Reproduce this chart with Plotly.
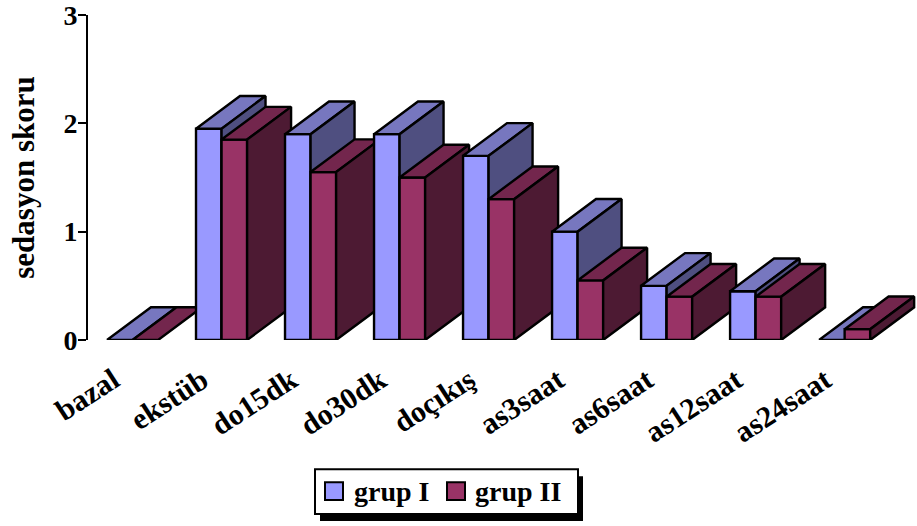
import plotly.graph_objects as go

# Sedation score per time point for the two groups
categories = ["bazal", "ekstüb", "do15dk", "do30dk", "doçıkış",
              "as3saat", "as6saat", "as12saat", "as24saat"]
grup_1 = [0.0, 1.95, 1.9, 1.9, 1.7, 1.0, 0.5, 0.45, 0.0]
grup_2 = [0.0, 1.85, 1.55, 1.5, 1.3, 0.55, 0.4, 0.4, 0.1]
y_ticks = [0, 1, 2, 3]

series = [
    ("grup I", grup_1, {"front": "#9999FF", "top": "#7777BF", "side": "#4F4F80"}),
    ("grup II", grup_2, {"front": "#993366", "top": "#73264D", "side": "#4D1A33"}),
]

# Geometry of the pseudo-3D columns (in axis units)
BAR_W = 0.287      # width of one column face
DEPTH_X = 0.494    # horizontal shift of the back faces
DEPTH_Y = 0.302    # vertical shift of the back faces
X_RANGE = [-0.2135, 9.10]

FONT = "Liberation Serif"

fig = go.Figure()


def add_face(xs, ys, color):
    fig.add_trace(go.Scatter(
        x=xs + [xs[0]], y=ys + [ys[0]], mode="lines", fill="toself",
        fillcolor=color, line=dict(color="black", width=2.4),
        hoverinfo="skip", showlegend=False, cliponaxis=False))


for i, _ in enumerate(categories):
    for k, (_, vals, col) in enumerate(series):
        h = vals[i]
        x0 = i + k * BAR_W
        x1 = x0 + BAR_W
        # front face
        if h > 0:
            add_face([x0, x1, x1, x0], [0, 0, h, h], col["front"])
        # top face
        add_face([x0, x1, x1 + DEPTH_X, x0 + DEPTH_X],
                 [h, h, h + DEPTH_Y, h + DEPTH_Y], col["top"])
        # right side face
        if h > 0:
            add_face([x1, x1 + DEPTH_X, x1 + DEPTH_X, x1],
                     [0, DEPTH_Y, h + DEPTH_Y, h], col["side"])

W, H = 917, 526
M_L, M_R, M_T, M_B = 88, 0, 13, 186
plot_w = W - M_L - M_R
plot_h = H - M_T - M_B


def px_to_paper(px, py):
    return (px - M_L) / plot_w, (H - M_B - py) / plot_h


def paper_rect(x0, y0, x1, y1, **kw):
    a, b = px_to_paper(x0, y0)
    c, d = px_to_paper(x1, y1)
    fig.add_shape(type="rect", xref="paper", yref="paper",
                  x0=a, x1=c, y0=d, y1=b, layer="above", **kw)


# Legend box with drop shadow
paper_rect(320, 477, 583, 522, fillcolor="black", line=dict(width=0))
paper_rect(315, 470, 578, 515, fillcolor="white",
           line=dict(color="black", width=2))
legend_items = [(325, 352), (447, 473)]
for (sw_x, txt_x), (name, _, col) in zip(legend_items, series):
    paper_rect(sw_x, 483, sw_x + 18, 501, fillcolor=col["front"],
               line=dict(color="black", width=2))
    ax, ay = px_to_paper(txt_x, 492)
    fig.add_annotation(x=ax, y=ay, xref="paper", yref="paper", text=name,
                       showarrow=False, xanchor="left", yanchor="middle",
                       font=dict(size=28, family=FONT, weight="bold",
                                 color="black"))

fig.update_layout(
    width=W, height=H,
    margin=dict(l=M_L, r=M_R, t=M_T, b=M_B, pad=0),
    paper_bgcolor="white", plot_bgcolor="white",
    font=dict(family=FONT, color="black", weight="bold"),
    showlegend=False,
    xaxis=dict(range=X_RANGE, showgrid=False, zeroline=False, showline=False,
               tickmode="array", tickvals=[i + 0.07 for i in range(len(categories))],
               ticktext=categories, tickangle=-33,
               ticks="outside", ticklen=10, tickcolor="rgba(0,0,0,0)",
               tickfont=dict(size=30, family=FONT, weight="bold")),
    yaxis=dict(range=[0, 3], showgrid=False, zeroline=False, showline=True,
               linecolor="black", linewidth=2, ticks="outside", ticklen=8,
               tickwidth=2, tickcolor="black", tickvals=y_ticks,
               ticklabeloverflow="allow", ticklabelstandoff=-5,
               tickfont=dict(size=28, family=FONT, weight="bold"),
               title=dict(text="sedasyon skoru", standoff=20,
                          font=dict(size=31, family=FONT, weight="bold"))),
)

fig.write_html("out.html")
